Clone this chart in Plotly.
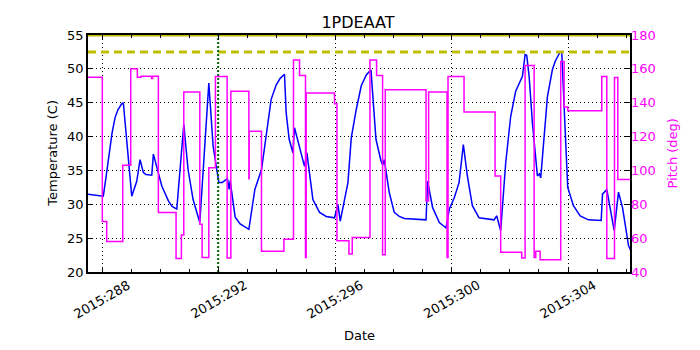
import plotly.graph_objects as go

# 온도 (1PDEAAT) - 일자(day of year, 2015) / 온도(C)
temp_day = [287.508, 288.034, 288.127, 288.230, 288.334, 288.437, 288.540, 288.660, 288.722,
            289.011, 289.183, 289.296, 289.410, 289.503, 289.699, 289.754, 290.043, 290.270,
            290.397, 290.559, 290.799, 290.947, 291.119, 291.350, 291.659, 291.807, 292.003,
            292.116, 292.299, 292.357, 292.392, 292.564, 292.736, 293.035, 293.241, 293.468,
            293.630, 293.801, 293.973, 294.110, 294.259, 294.317, 294.420, 294.548, 294.603,
            294.947, 295.029, 295.235, 295.463, 295.693, 295.978, 296.095, 296.174, 296.439,
            296.553, 296.725, 296.897, 297.069, 297.230, 297.402, 297.574, 297.636, 297.688,
            297.860, 298.032, 298.204, 298.376, 299.122, 299.177, 299.349, 299.579, 299.809,
            299.923, 300.095, 300.256, 300.404, 300.542, 300.714, 300.944, 301.460, 301.550,
            301.687, 301.859, 302.031, 302.203, 302.434, 302.526, 302.581, 302.664, 302.777,
            302.949, 303.018, 303.063, 303.293, 303.465, 303.568, 303.730, 303.785, 303.902,
            303.991, 304.187, 304.418, 304.703, 305.140, 305.185, 305.333, 305.587, 305.735,
            305.873, 306.079, 306.148]
temp_val = [31.5, 31.2, 34.0, 37.5, 40.5, 42.8, 44.0, 44.8, 45.0,
            31.2, 33.4, 36.6, 34.7, 34.4, 34.3, 37.4, 32.7, 30.5,
            29.7, 29.3, 41.8, 35.1, 30.7, 27.3, 47.9, 38.6, 33.2,
            33.2, 33.8, 32.2, 33.5, 28.1, 27.1, 26.3, 32.2, 35.1,
            40.5, 45.5, 47.6, 48.6, 49.2, 43.5, 39.6, 37.6, 41.3,
            35.6, 37.6, 30.7, 28.8, 28.2, 28.0, 30.0, 27.5, 33.2,
            39.8, 44.0, 47.5, 49.1, 49.85, 39.6, 36.4, 35.8, 36.6,
            31.7, 28.8, 28.2, 27.9, 27.7, 33.4, 29.5, 27.3, 26.5,
            29.3, 31.0, 33.2, 38.8, 34.2, 29.8, 28.0, 27.7, 28.3,
            26.1, 36.1, 43.0, 46.7, 48.9, 52.1, 52.0, 48.9, 42.0,
            34.2, 34.5, 33.9, 45.9, 49.9, 51.2, 52.5, 52.5, 41.0,
            32.5, 29.8, 28.3, 27.7, 27.6, 31.5, 32.2, 26.1, 31.8,
            29.5, 23.9, 23.2]

# 피치 (deg) - 계단형, 각 값은 다음 시점까지 유지
pitch_day = [287.508, 288.000, 288.151, 288.702, 288.977, 289.204, 289.330, 289.692, 289.726,
             289.926, 290.534, 290.717, 290.799, 291.350, 291.429, 291.659, 291.886, 292.288,
             292.416, 293.035, 293.045, 293.468, 294.238, 294.568, 294.775, 294.981, 295.005,
             295.978, 296.061, 296.474, 296.587, 297.196, 297.423, 297.629, 297.722, 299.122,
             299.211, 299.844, 299.878, 300.428, 301.494, 301.687, 302.409, 302.526, 302.836,
             302.891, 303.042, 303.750, 303.867, 303.991, 305.160, 305.333, 305.597, 305.711,
             306.148]
pitch_val = [155.1, 69.8, 58.0, 103.0, 160.0, 155.0, 155.7, 154.3, 155.7,
             75.1, 48.0, 61.8, 146.3, 68.2, 48.6, 101.6, 155.5, 48.2,
             146.7, 95.1, 123.1, 52.2, 59.4, 165.3, 156.1, 48.6, 145.7,
             139.4, 58.4, 50.6, 60.4, 165.3, 156.1, 50.2, 147.6, 82.0,
             146.3, 48.6, 155.5, 134.5, 96.7, 51.6, 48.2, 162.0, 48.6,
             52.2, 47.2, 164.3, 137.5, 135.3, 155.5, 48.0, 154.9, 94.7,
             94.7]

# 한계선 / 이벤트
planning_limit = 52.5
upper_limit = 55.0
event_day = 291.98

x_ticks = [288, 292, 296, 300, 304]
x_ticklabels = ['2015:288', '2015:292', '2015:296', '2015:300', '2015:304']
x_range = [287.508, 306.13]

FONT = 'DejaVu Sans'
MAGENTA = '#ff00ff'
OLIVE = '#bfbf00'

fig = go.Figure()

fig.add_trace(go.Scatter(
    x=temp_day, y=temp_val, mode='lines',
    line=dict(color='#0000ff', width=1.5),
    yaxis='y', showlegend=False, hoverinfo='skip'
))

# 상한선 (실선) 및 계획 한계선 (점선)
fig.add_trace(go.Scatter(
    x=x_range, y=[upper_limit, upper_limit], mode='lines',
    line=dict(color=OLIVE, width=3), showlegend=False, hoverinfo='skip'
))
fig.add_trace(go.Scatter(
    x=x_range, y=[planning_limit, planning_limit], mode='lines',
    line=dict(color=OLIVE, width=3, dash='8px,5px'), showlegend=False, hoverinfo='skip'
))

# 이벤트 세로선
fig.add_trace(go.Scatter(
    x=[event_day, event_day], y=[20, 55], mode='lines',
    line=dict(color='#006400', width=2, dash='2px,2px'), showlegend=False, hoverinfo='skip'
))

fig.add_trace(go.Scatter(
    x=pitch_day, y=pitch_val, mode='lines',
    line=dict(color=MAGENTA, width=1.5, shape='hv'),
    yaxis='y2', showlegend=False, hoverinfo='skip'
))

annotations = []
for t, lab in zip(x_ticks, x_ticklabels):
    annotations.append(dict(
        x=t, y=-0.118, xref='x', yref='paper', text=lab, showarrow=False,
        textangle=-30, xanchor='center', yanchor='middle',
        font=dict(family=FONT, size=13, color='black')
    ))
annotations += [
    dict(x=0.5, y=-0.27, xref='paper', yref='paper', text='Date', showarrow=False,
         xanchor='center', yanchor='middle', font=dict(family=FONT, size=13, color='black')),
    dict(x=-0.066, y=0.5, xref='paper', yref='paper', text='Temperature (C)', showarrow=False,
         textangle=-90, xanchor='center', yanchor='middle',
         font=dict(family=FONT, size=13, color='black')),
    dict(x=1.0775, y=0.5, xref='paper', yref='paper', text='Pitch (deg)', showarrow=False,
         textangle=-90, xanchor='center', yanchor='middle',
         font=dict(family=FONT, size=13, color=MAGENTA)),
]

# 페이지 기본 여백(8px)을 고려한 마진
fig.update_layout(
    width=700, height=350,
    margin=dict(l=80, r=78, t=27, b=86),
    paper_bgcolor='white', plot_bgcolor='white',
    font=dict(family=FONT, size=13, color='black'),
    title=dict(text='1PDEAAT', x=0.5, xanchor='center', y=0.96, yanchor='middle',
               font=dict(family=FONT, size=16, color='black')),
    xaxis=dict(
        range=x_range, tickvals=x_ticks, showticklabels=False,
        ticks='inside', ticklen=5, tickcolor='black', mirror='ticks',
        showline=True, linecolor='black', linewidth=1.5,
        showgrid=True, gridcolor='black', gridwidth=1, griddash='1px,3px',
        minor=dict(dtick=1, tick0=288, ticks='inside', ticklen=3, tickcolor='black', showgrid=False),
        zeroline=False,
    ),
    yaxis=dict(
        range=[20, 55], tickvals=[20, 25, 30, 35, 40, 45, 50, 55],
        ticks='inside', ticklen=5, tickcolor='black',
        showline=True, linecolor='black', linewidth=1.5, mirror=True,
        showgrid=True, gridcolor='black', gridwidth=1, griddash='1px,3px',
        zeroline=False, tickfont=dict(family=FONT, size=13, color='black'),
    ),
    yaxis2=dict(
        range=[40, 180], tickvals=[40, 60, 80, 100, 120, 140, 160, 180],
        overlaying='y', side='right',
        ticks='inside', ticklen=5, tickcolor='black',
        showline=False, showgrid=False, zeroline=False,
        tickfont=dict(family=FONT, size=13, color=MAGENTA),
    ),
    annotations=annotations,
)

fig.write_html('out.html')
